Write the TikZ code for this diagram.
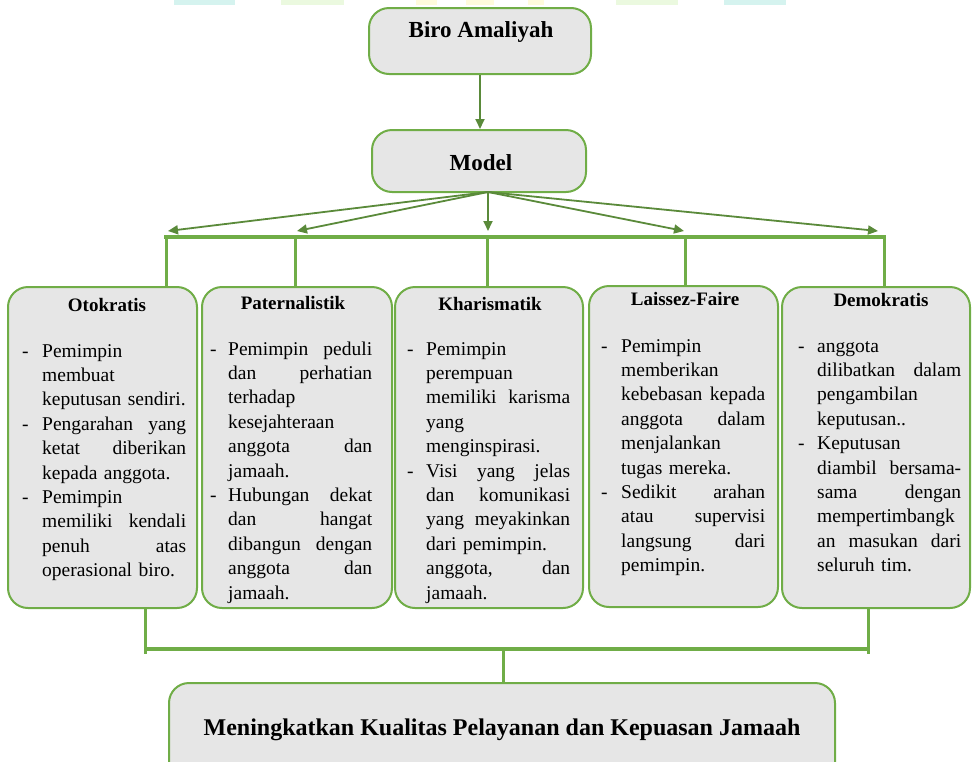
\documentclass[tikz,border=0pt]{standalone}
\usepackage{fontspec}
\setmainfont{Liberation Serif}
\usetikzlibrary{arrows.meta}
\definecolor{boxfill}{HTML}{E6E6E6}
\definecolor{boxline}{HTML}{70AD47}
\definecolor{arrowgreen}{HTML}{5A8A3A}
\definecolor{stripcyan}{HTML}{D5F3EF}
\definecolor{stripgreen}{HTML}{EBF9DF}
\definecolor{stripyellow}{HTML}{FFFBDC}
\newlength{\itemtw}\setlength{\itemtw}{144pt}
\newlength{\dashw}\setlength{\dashw}{20pt}
% justified line: words separated by \hfill written explicitly
\newcommand{\jln}[1]{\hbox to\itemtw{#1}}
\newcommand{\lln}[1]{\hbox to\itemtw{#1\hfill}}
\newcommand{\dsh}{\leavevmode\hbox to\dashw{-\hfill}}
\newcommand{\itmind}{\leavevmode\hbox to\dashw{\hfill}}
\tikzset{
  box/.style={rectangle, draw=boxline, line width=2pt, fill=boxfill, rounded corners=20pt, inner sep=0pt},
  bodytext/.style={anchor=base west, inner sep=0pt, align=left, text width=172pt, font=\fontsize{19.5}{24.4}\selectfont},
  boxtitle/.style={anchor=base, inner sep=0pt, font=\bfseries\fontsize{19}{22}\selectfont},
  heading/.style={anchor=base, inner sep=0pt, font=\bfseries\fontsize{23}{26}\selectfont},
  thinarrow/.style={draw=arrowgreen, line width=1.8pt, -{Triangle[length=10pt,width=9pt]}},
  bar/.style={draw=boxline, line width=4.5pt},
  drop/.style={draw=boxline, line width=3pt},
}
\begin{document}
\begin{tikzpicture}[x=1pt,y=-1pt]
\useasboundingbox (0,0) rectangle (972,761);
% faint strips at the top edge
\fill[stripcyan] (174,0) rectangle (235,5);
\fill[stripgreen] (281,0) rectangle (344,5);
\fill[stripyellow] (416,0) rectangle (437,5);
\fill[stripyellow] (466,0) rectangle (494,5);
\fill[stripyellow] (528,0) rectangle (544,5);
\fill[stripgreen] (616,0) rectangle (678,5);
\fill[stripcyan] (724,0) rectangle (786,5);

% top boxes
\node[box, minimum width=222pt, minimum height=66pt] (biro) at (480,41) {};
\node[heading] (birotext) at (481,37) {Biro Amaliyah};
\node[box, minimum width=214pt, minimum height=62pt] (model) at (479,161) {};
\node[heading] (modeltext) at (481,170) {Model};

\draw[thinarrow] (biro.south) -- (biro.south |- model.north);

% five boxes
\node[box, minimum width=189pt, minimum height=321pt] (b1) at (102.5,447.5) {};
\node[box, minimum width=190pt, minimum height=321pt] (b2) at (297,447.5) {};
\node[box, minimum width=188pt, minimum height=321pt] (b3) at (489,447.5) {};
\node[box, minimum width=189pt, minimum height=321pt] (b4) at (683.5,446.5) {};
\node[box, minimum width=188pt, minimum height=321pt] (b5) at (876,447.5) {};

% fan of arrows
\coordinate (fan) at (488,192);
\coordinate (t1) at (168,231);
\coordinate (t2) at (297,231);
\coordinate (t3) at (488,231);
\coordinate (t4) at (684,231);
\coordinate (t5) at (878,231);
\foreach \t in {t1,t2,t3,t4,t5} \draw[thinarrow] (fan) -- (\t);

% top bar and drops
\coordinate (d1) at (166,237);
\coordinate (d2) at (295,237);
\coordinate (d3) at (487,237);
\coordinate (d4) at (685,237);
\coordinate (d5) at (884,237);
\draw[bar] (164,237) -- (886,237);
\draw[drop] (d1) -- (d1 |- b1.north);
\draw[drop] (d2) -- (d2 |- b2.north);
\draw[drop] (d3) -- (d3 |- b3.north);
\draw[drop] (d4) -- (d4 |- b4.north);
\draw[drop] (d5) -- (d5 |- b5.north);

% titles
\node[boxtitle] (h1) at (107,311) {Otokratis};
\node[boxtitle] (h2) at (293,309) {Paternalistik};
\node[boxtitle] (h3) at (490,310) {Kharismatik};
\node[boxtitle] (h4) at (685,305) {Laissez-Faire};
\node[boxtitle] (h5) at (881,306) {Demokratis};

% bodies
\node[bodytext] (p1) at (22,357) {\setlength{\dashw}{20pt}%
\dsh\lln{Pemimpin}\\
\itmind\lln{membuat}\\
\itmind\lln{keputusan sendiri.}\\
\dsh\jln{Pengarahan\hfill yang}\\
\itmind\jln{ketat\hfill diberikan}\\
\itmind\lln{kepada anggota.}\\
\dsh\lln{Pemimpin}\\
\itmind\jln{memiliki\hfill kendali}\\
\itmind\jln{penuh\hfill atas}\\
\itmind\lln{operasional biro.}};

\node[bodytext] (p2) at (210,355) {\setlength{\dashw}{18pt}%
\dsh\jln{Pemimpin\hfill peduli}\\
\itmind\jln{dan\hfill perhatian}\\
\itmind\lln{terhadap}\\
\itmind\lln{kesejahteraan}\\
\itmind\jln{anggota\hfill dan}\\
\itmind\lln{jamaah.}\\
\dsh\jln{Hubungan\hfill dekat}\\
\itmind\jln{dan\hfill hangat}\\
\itmind\jln{dibangun\hfill dengan}\\
\itmind\jln{anggota\hfill dan}\\
\itmind\lln{jamaah.}};

\node[bodytext] (p3) at (407,355) {\setlength{\dashw}{19pt}%
\dsh\lln{Pemimpin}\\
\itmind\lln{perempuan}\\
\itmind\jln{memiliki\hfill karisma}\\
\itmind\lln{yang}\\
\itmind\lln{menginspirasi.}\\
\dsh\jln{Visi\hfill yang\hfill jelas}\\
\itmind\jln{dan\hfill komunikasi}\\
\itmind\jln{yang\hfill meyakinkan}\\
\itmind\lln{dari pemimpin.}\\
\itmind\jln{anggota,\hfill dan}\\
\itmind\lln{jamaah.}};

\node[bodytext] (p4) at (601,352) {\setlength{\dashw}{20pt}%
\dsh\lln{Pemimpin}\\
\itmind\lln{memberikan}\\
\itmind\jln{kebebasan\hfill kepada}\\
\itmind\jln{anggota\hfill dalam}\\
\itmind\lln{menjalankan}\\
\itmind\lln{tugas mereka.}\\
\dsh\jln{Sedikit\hfill arahan}\\
\itmind\jln{atau\hfill supervisi}\\
\itmind\jln{langsung\hfill dari}\\
\itmind\lln{pemimpin.}};

\node[bodytext] (p5) at (798,352) {\setlength{\dashw}{19pt}%
\dsh\lln{anggota}\\
\itmind\jln{dilibatkan\hfill dalam}\\
\itmind\lln{pengambilan}\\
\itmind\lln{keputusan..}\\
\dsh\lln{Keputusan}\\
\itmind\jln{diambil\hfill bersama-}\\
\itmind\jln{sama\hfill dengan}\\
\itmind\lln{mempertimbangk}\\
\itmind\jln{an\hfill masukan\hfill dari}\\
\itmind\lln{seluruh tim.}};

% bottom goal box and connectors
\node[box, minimum width=666pt, minimum height=120pt] (goal) at (502,743) {};
\node[heading, font=\bfseries\fontsize{24}{27}\selectfont] (goaltext) at (502,735) {Meningkatkan Kualitas Pelayanan dan Kepuasan Jamaah};
\coordinate (u1) at (145,649);
\coordinate (u2) at (868,649);
\coordinate (um) at (503,649);
\draw[drop] (u1 |- b1.south) -- (u1) -- ++(0,5);
\draw[drop] (u2 |- b5.south) -- (u2) -- ++(0,5);
\draw[bar] (u1) -- (u2);
\draw[drop] (um) -- (um |- goal.north);
\end{tikzpicture}
\end{document}
